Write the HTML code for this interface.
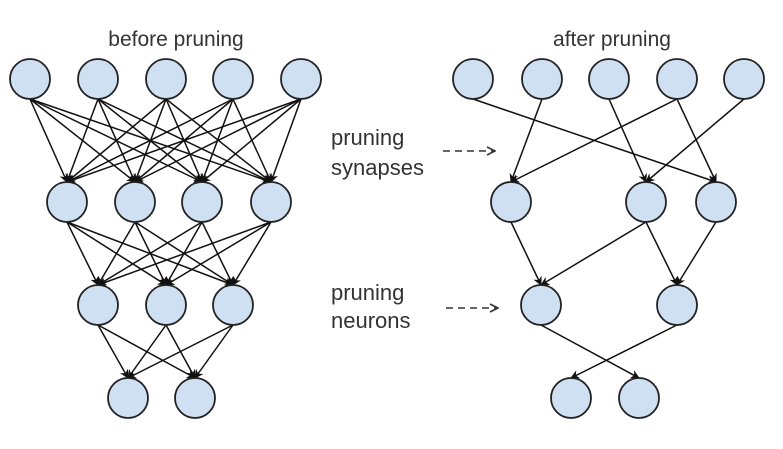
<!DOCTYPE html>
<html><head><meta charset="utf-8"><style>
html,body{margin:0;padding:0;background:#fff}
svg{display:block}
text{font-family:"Liberation Sans",sans-serif;fill:#333}
</style></head><body>
<svg width="783" height="449" viewBox="0 0 783 449" xmlns="http://www.w3.org/2000/svg">
<defs>
<marker id="a" viewBox="0 0 10 10" refX="9" refY="5" markerWidth="9" markerHeight="9" markerUnits="userSpaceOnUse" orient="auto"><path d="M0,0 L10,5 L0,10 L3,5 z" fill="#111"/></marker>
<marker id="d" viewBox="0 0 10 10" refX="9" refY="5" markerWidth="10" markerHeight="10" markerUnits="userSpaceOnUse" orient="auto"><path d="M1,1 L9,5 L1,9" fill="none" stroke="#333" stroke-width="1.6"/></marker>
</defs>
<text x="176" y="46" font-size="21" text-anchor="middle">before pruning</text>
<text x="612" y="46" font-size="21" text-anchor="middle">after pruning</text>
<text x="331" y="145" font-size="22">pruning</text>
<text x="331" y="175" font-size="22">synapses</text>
<text x="331" y="300" font-size="22">pruning</text>
<text x="331" y="328" font-size="22">neurons</text>
<line x1="443" y1="151" x2="495" y2="151" stroke="#333" stroke-width="1.6" stroke-dasharray="7,5" marker-end="url(#d)"/>
<line x1="446" y1="308" x2="498" y2="308" stroke="#333" stroke-width="1.6" stroke-dasharray="7,5" marker-end="url(#d)"/>
<g stroke="#111" stroke-width="1.5" marker-end="url(#a)">
<!-- left row1->row2 -->
<line x1="30" y1="99" x2="67" y2="182"/><line x1="30" y1="99" x2="135" y2="182"/><line x1="30" y1="99" x2="202" y2="182"/><line x1="30" y1="99" x2="271" y2="182"/>
<line x1="98" y1="99" x2="67" y2="182"/><line x1="98" y1="99" x2="135" y2="182"/><line x1="98" y1="99" x2="202" y2="182"/><line x1="98" y1="99" x2="271" y2="182"/>
<line x1="166" y1="99" x2="67" y2="182"/><line x1="166" y1="99" x2="135" y2="182"/><line x1="166" y1="99" x2="202" y2="182"/><line x1="166" y1="99" x2="271" y2="182"/>
<line x1="233" y1="99" x2="67" y2="182"/><line x1="233" y1="99" x2="135" y2="182"/><line x1="233" y1="99" x2="202" y2="182"/><line x1="233" y1="99" x2="271" y2="182"/>
<line x1="301" y1="99" x2="67" y2="182"/><line x1="301" y1="99" x2="135" y2="182"/><line x1="301" y1="99" x2="202" y2="182"/><line x1="301" y1="99" x2="271" y2="182"/>
<!-- left row2->row3 -->
<line x1="67" y1="222" x2="98" y2="285"/><line x1="67" y1="222" x2="166" y2="285"/><line x1="67" y1="222" x2="233" y2="285"/>
<line x1="135" y1="222" x2="98" y2="285"/><line x1="135" y1="222" x2="166" y2="285"/><line x1="135" y1="222" x2="233" y2="285"/>
<line x1="202" y1="222" x2="98" y2="285"/><line x1="202" y1="222" x2="166" y2="285"/><line x1="202" y1="222" x2="233" y2="285"/>
<line x1="271" y1="222" x2="98" y2="285"/><line x1="271" y1="222" x2="166" y2="285"/><line x1="271" y1="222" x2="233" y2="285"/>
<!-- left row3->row4 -->
<line x1="98" y1="325" x2="128" y2="378"/><line x1="98" y1="325" x2="195" y2="378"/>
<line x1="166" y1="325" x2="128" y2="378"/><line x1="166" y1="325" x2="195" y2="378"/>
<line x1="233" y1="325" x2="128" y2="378"/><line x1="233" y1="325" x2="195" y2="378"/>
<!-- right -->
<line x1="473" y1="99" x2="716" y2="182"/>
<line x1="542" y1="99" x2="511" y2="182"/>
<line x1="609" y1="99" x2="646" y2="182"/>
<line x1="677" y1="99" x2="511" y2="182"/>
<line x1="677" y1="99" x2="716" y2="182"/>
<line x1="744" y1="99" x2="646" y2="182"/>
<line x1="511" y1="222" x2="541" y2="285"/>
<line x1="646" y1="222" x2="541" y2="285"/>
<line x1="646" y1="222" x2="677" y2="285"/>
<line x1="716" y1="222" x2="677" y2="285"/>
<line x1="541" y1="325" x2="639" y2="378"/>
<line x1="677" y1="325" x2="571" y2="378"/>
</g>
<g fill="#cfe0f3" stroke="#222" stroke-width="1.8">
<circle cx="30" cy="79" r="20"/><circle cx="98" cy="79" r="20"/><circle cx="166" cy="79" r="20"/><circle cx="233" cy="79" r="20"/><circle cx="301" cy="79" r="20"/>
<circle cx="67" cy="202" r="20"/><circle cx="135" cy="202" r="20"/><circle cx="202" cy="202" r="20"/><circle cx="271" cy="202" r="20"/>
<circle cx="98" cy="305" r="20"/><circle cx="166" cy="305" r="20"/><circle cx="233" cy="305" r="20"/>
<circle cx="128" cy="398" r="20"/><circle cx="195" cy="398" r="20"/>
<circle cx="473" cy="79" r="20"/><circle cx="542" cy="79" r="20"/><circle cx="609" cy="79" r="20"/><circle cx="677" cy="79" r="20"/><circle cx="744" cy="79" r="20"/>
<circle cx="511" cy="202" r="20"/><circle cx="646" cy="202" r="20"/><circle cx="716" cy="202" r="20"/>
<circle cx="541" cy="305" r="20"/><circle cx="677" cy="305" r="20"/>
<circle cx="571" cy="398" r="20"/><circle cx="639" cy="398" r="20"/>
</g>
</svg>
</body></html>
